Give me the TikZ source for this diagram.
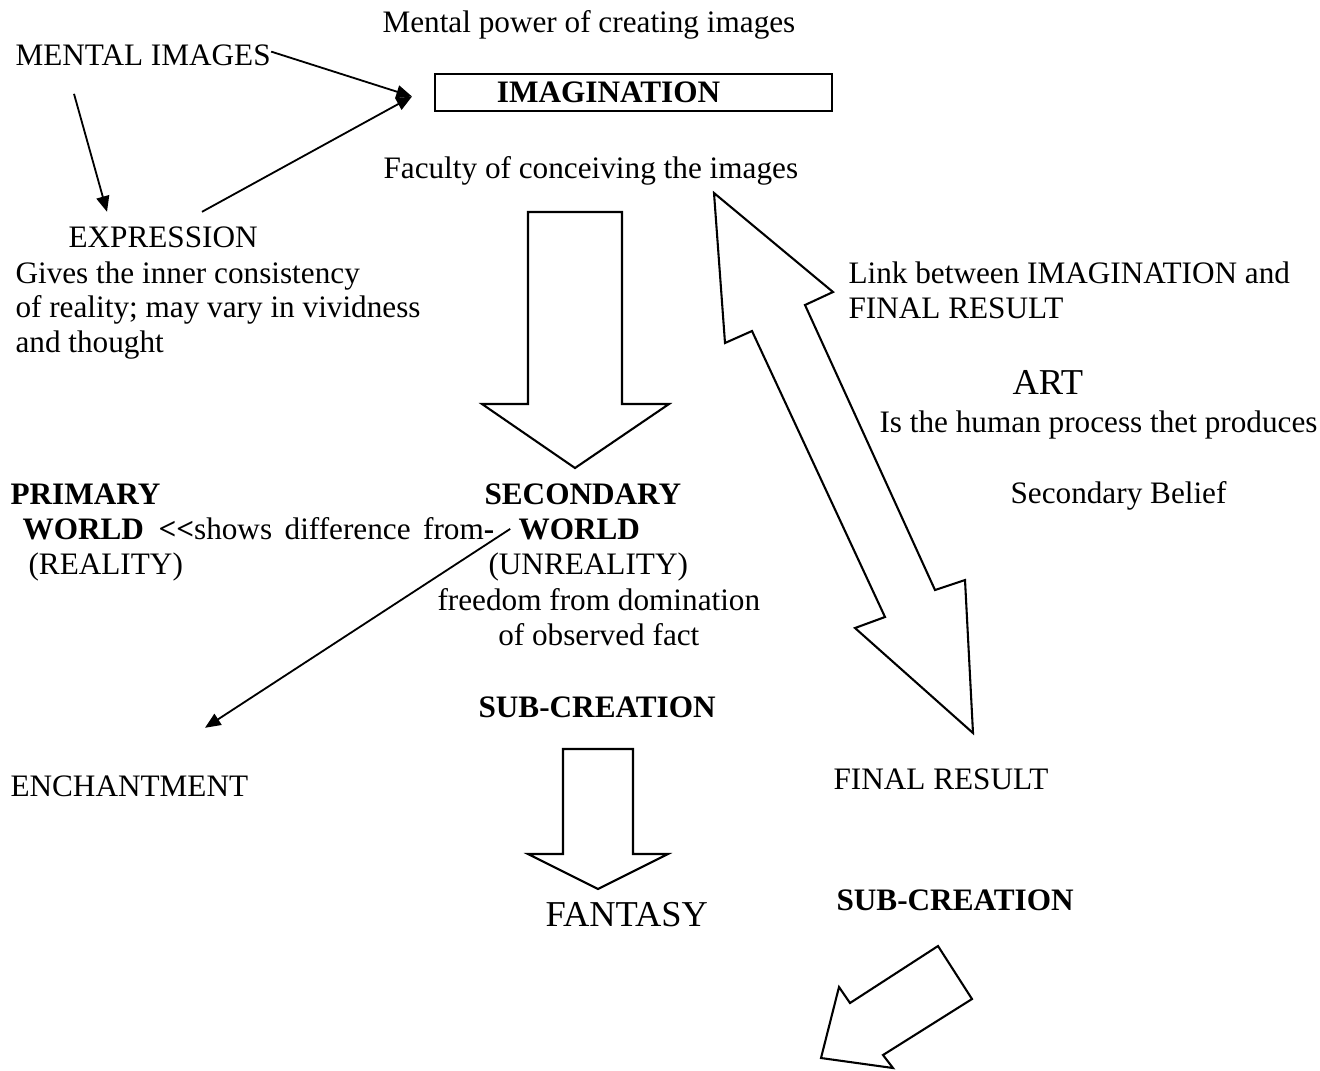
\documentclass[tikz,border=0pt]{standalone}
\usepackage{fontspec}
\setmainfont{Liberation Serif}
\usepackage{tikz}
\usetikzlibrary{arrows.meta}
\tikzset{
txt_n/.style = {inner sep=0pt, anchor=base west, font=\fontsize{12}{13.25}\selectfont},% plain text
txt_b/.style = {txt_n, font=\fontsize{12}{13.25}\selectfont\bfseries},% bold text
txt_g/.style = {txt_n, font=\fontsize{14}{16}\selectfont},% large text
cadre/.style = {txt_n, draw=black, line width=0.8pt, anchor=west, align=left, text width=105pt, inner xsep=23.8pt, minimum height=14.2pt},% framed title
bloc/.style  = {draw=black, line width=0.8pt, line join=miter, fill=white},% block arrow
lien/.style  = {line width=0.7pt, -{Triangle[length=6pt, width=5pt]}}% thin arrow
}
\begin{document}
\begin{tikzpicture}[x=0.0135cm, y=-0.0135cm]
\useasboundingbox (0,0) rectangle (1320,1070);
% top part
\node[txt_n] (power) at (382,32) {Mental power of creating images};
\node[txt_n] (mental) at (15,65) {MENTAL IMAGES};
\node[cadre] (imag) at (434,92.5) {\textbf{IMAGINATION}};
\node[txt_n] (faculty) at (383,178) {Faculty of conceiving the images};
\node[txt_n] (expr) at (68,247) {EXPRESSION};
\node[txt_n, align=left] (gives) at (15,352) {Gives the inner consistency\\of reality; may vary in vividness\\and thought};% base = last line
\coordinate (meet) at ([shift={(-22,4)}]imag.west);
\draw[lien] ([yshift=-3]mental.north east) -- (meet);
\draw[lien] ([shift={(134,-14)}]expr.north west) -- (meet);
\draw[lien] ([shift={(59,28)}]mental.south west) -- ([shift={(39,-14)}]expr.north west);
% right part
\node[txt_n, align=left] (link) at (848,318) {Link between IMAGINATION and\\FINAL RESULT};
\node[txt_g] (art) at (1012,394) {ART};
\node[txt_n] (process) at (879,432) {Is the human process thet produces};
\node[txt_n] (belief) at (1010,503) {Secondary Belief};
% the two worlds
\node[txt_b] (primary) at (10,504) {PRIMARY};
\node[txt_b] (pworld) at (22,539) {WORLD};
\node[txt_n] (diff) at (158,539) {\textbf{<\kern0pt<}shows\hspace{0.4em}difference\hspace{0.4em}from\textbf{-}};
\node[txt_n] (reality) at (28,574) {(REALITY)};
\node[txt_b] (secondary) at (484,504) {SECONDARY};
\node[txt_b] (sworld) at (518,539) {WORLD};
\node[txt_n] (unreality) at (488,574) {(UNREALITY)};
\node[txt_n, align=center] (freedom) at (437,645) {freedom from domination\\of observed fact};
% bottom part
\node[txt_b] (subA) at (478,717) {SUB-CREATION};
\node[txt_n] (enchant) at (10,796) {ENCHANTMENT};
\node[txt_n] (final) at (833,789) {FINAL RESULT};
\node[txt_b] (subB) at (836,910) {SUB-CREATION};
\node[txt_g] (fantasy) at (545,926) {FANTASY};
\draw[lien] ([xshift=-3]sworld.west) -- ([shift={(195,-47)}]enchant.north west);
% block arrows
\draw[bloc] (528,212) -- (622,212) -- (622,404) -- (669,404) -- (575,468) -- (482,404) -- (528,404) -- cycle;
\draw[bloc] (563,749) -- (633,749) -- (633,854) -- (668,854) -- (598,889) -- (528,854) -- (563,854) -- cycle;
\draw[bloc] (714,193) -- (833,292) -- (805,305) -- (935,590) -- (965,580) -- (973,733) -- (855,628) -- (885,617) -- (752,331) -- (725,343) -- cycle;
\draw[bloc] (938,946) -- (972,999) -- (883,1055) -- (893,1068) -- (821,1058) -- (839,987) -- (850,1003) -- cycle;
\end{tikzpicture}
\end{document}
